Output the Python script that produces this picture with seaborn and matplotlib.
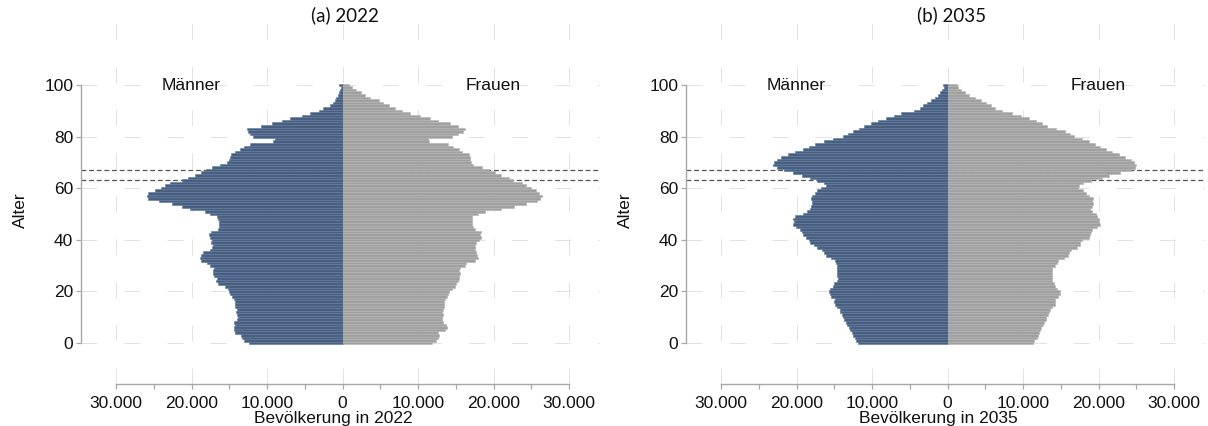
import pandas as pd
import matplotlib
matplotlib.use('Agg')
import matplotlib.pyplot as plt
from matplotlib.ticker import FuncFormatter, FixedLocator
import seaborn as sns

# Alter 0 bis 100 (100 = 100 und älter)
ages = list(range(0, 101))

maenner_2022 = [12400, 13000, 13300, 13400, 14200, 14400, 14400, 14300, 14400, 14000,
                13900, 14000, 14100, 14000, 14200, 14300, 14200, 14400, 14600, 14900,
                15000, 15200, 15600, 16500, 16700, 16600, 17000, 17100, 17200, 17000,
                17600, 17900, 18700, 18900, 18800, 18500, 17600, 17300, 17200, 17400,
                17300, 17600, 17700, 17400, 16500, 16400, 16300, 16400, 16500, 16600,
                17500, 18200, 20200, 21300, 22600, 24300, 25700, 25900, 25700, 24800,
                24000, 23500, 22800, 21200, 20400, 19500, 18700, 18100, 17300, 16200,
                15300, 15000, 14900, 14800, 14200, 13600, 13000, 12300, 9200, 9000,
                11800, 12300, 12500, 12600, 10800, 9300, 8000, 7000, 5400, 4300,
                3100, 2600, 1700, 1300, 1000, 800, 600, 450, 320, 220,
                400]
frauen_2022 = [11800, 12400, 12700, 12800, 12700, 13600, 13800, 13700, 13300, 13200,
               13200, 13300, 13200, 13300, 13400, 13400, 13500, 13600, 13900, 14000,
               14100, 14500, 14900, 15000, 15300, 15400, 15400, 15500, 15400, 15600,
               16200, 16400, 17600, 17900, 17800, 17700, 17600, 17500, 17600, 17700,
               18100, 18400, 18200, 18300, 17500, 17300, 17200, 17200, 17100, 17100,
               17900, 18900, 21000, 22700, 24300, 25700, 26100, 26400, 26000, 25600,
               25000, 24300, 23800, 22600, 22000, 21000, 20200, 19400, 18500, 17300,
               17000, 16900, 16900, 16800, 15800, 15400, 14600, 14000, 11500, 11300,
               14500, 15300, 16000, 16200, 15300, 14200, 12700, 11600, 10300, 9000,
               7900, 6900, 6100, 5300, 4800, 3600, 3000, 2400, 1800, 1300,
               800]
maenner_2035 = [11800, 12100, 12300, 12500, 12700, 12900, 13100, 13300, 13500, 13700,
                13800, 14000, 14200, 14300, 14600, 14900, 15000, 14900, 15400, 15600,
                15700, 15500, 15200, 15000, 14600, 14500, 14600, 14700, 14700, 14700,
                14600, 14800, 14900, 15400, 16100, 16300, 16600, 17300, 17700, 18200,
                18300, 18800, 19200, 19300, 19500, 20100, 20400, 20300, 20500, 20200,
                19200, 18600, 18200, 18100, 18000, 18000, 18100, 17900, 17600, 17300,
                16800, 16100, 16300, 17300, 18200, 19300, 20400, 21600, 22600, 23100,
                23000, 22600, 22000, 21100, 20200, 19200, 18300, 17600, 16400, 15100,
                13900, 13200, 12500, 11700, 11000, 10100, 9200, 8200, 7100, 6200,
                4500, 3700, 3200, 2700, 2200, 1600, 1300, 1000, 700, 500,
                600]
frauen_2035 = [11300, 11500, 11800, 12000, 12100, 12200, 12400, 12700, 12800, 13000,
               13100, 13300, 13500, 13600, 13900, 14200, 14200, 14300, 14700, 14900,
               14900, 14500, 14200, 14100, 13900, 13800, 13800, 13900, 13800, 13900,
               14300, 14500, 14600, 15400, 15900, 16100, 16300, 17200, 17500, 17600,
               17800, 18700, 18900, 19000, 19100, 19800, 20200, 20000, 20000, 19800,
               19700, 19200, 18900, 19100, 19300, 19200, 19300, 18800, 18400, 17900,
               17300, 17400, 18000, 19000, 20400, 21400, 22900, 24300, 24900, 25000,
               24700, 24300, 23500, 22700, 21800, 21000, 20200, 19600, 18700, 17800,
               16800, 16200, 15500, 14400, 13200, 12500, 11700, 10800, 9700, 8500,
               7200, 6300, 5700, 5100, 4500, 3600, 2900, 2300, 1800, 1400,
               1200]

panel_titles = ['(a) 2022', '(b) 2035']
x_labels = ['Bevölkerung in 2022', 'Bevölkerung in 2035']
ref_ages = [63, 67]
x_ticks = [-30000, -20000, -10000, 0, 10000, 20000, 30000]
x_minor = [-25000, -15000, -5000, 5000, 15000, 25000]
y_ticks = [0, 20, 40, 60, 80, 100]

sns.set_theme(style='white')
plt.rcParams['font.family'] = ['Liberation Sans', 'DejaVu Sans']
plt.rcParams['lines.scale_dashes'] = False

fig = plt.figure(figsize=(12.08, 4.26), dpi=100)

panels = [(maenner_2022, frauen_2022), (maenner_2035, frauen_2035)]
lefts = [81 / 1208, 686 / 1208]
title_x = [345 / 1208, 952 / 1208]
axis_grey = '#a8a8a8'

for i, (men, women) in enumerate(panels):
    ax = fig.add_axes([lefts[i], 1 - 384 / 426, 519 / 1208, 364 / 426])

    df_m = pd.DataFrame({'Alter': ages, 'Bevölkerung': [-v for v in men]})
    df_f = pd.DataFrame({'Alter': ages, 'Bevölkerung': women})
    sns.barplot(data=df_m, x='Bevölkerung', y='Alter', orient='h', native_scale=True,
                width=1, color='#4a5e7e', saturation=1, edgecolor='#5a7aa2',
                linewidth=0.4, errorbar=None, ax=ax)
    sns.barplot(data=df_f, x='Bevölkerung', y='Alter', orient='h', native_scale=True,
                width=1, color='#a0a0a0', saturation=1, edgecolor='#b3b3b3',
                linewidth=0.4, errorbar=None, ax=ax)

    # Renteneintrittsalter
    for a in ref_ages:
        ax.axhline(a, color='#555555', lw=0.9, ls=(0, (3.5, 2)), zorder=0.8)

    ax.set_xlim(-34636, 34106)
    ax.set_ylim(-15.9, 125.2)

    ax.set_xticks(x_ticks)
    ax.xaxis.set_minor_locator(FixedLocator(x_minor))
    ax.set_yticks(y_ticks)
    ax.xaxis.set_major_formatter(FuncFormatter(lambda v, p: f'{abs(int(v)):,}'.replace(',', '.')))

    ax.set_axisbelow(True)
    ax.grid(True, which='major', color='#e2e2e2', lw=0.7, ls=(0, (11.5, 19.5)))

    for s in ['top', 'right']:
        ax.spines[s].set_visible(False)
    ax.spines['left'].set_bounds(0, 100)
    ax.spines['bottom'].set_bounds(-30000, 30000)
    for s in ['left', 'bottom']:
        ax.spines[s].set_color(axis_grey)
        ax.spines[s].set_linewidth(1)

    ax.tick_params(axis='both', which='both', bottom=True, left=True, direction='out',
                   length=3.6, width=0.9, color=axis_grey, labelsize=12.5,
                   labelcolor='#111111')
    ax.tick_params(axis='x', pad=5)
    ax.tick_params(axis='y', pad=2)

    ax.set_xlabel(x_labels[i], fontsize=12.5, color='#111111')
    ax.xaxis.label.set_va('center')
    ax.xaxis.set_label_coords(0.4868, -0.096)
    ax.set_ylabel('Alter', fontsize=12.5, color='#111111')
    ax.yaxis.label.set_va('center')
    ax.yaxis.set_label_coords(-0.1175, 0.478)

    ax.text(-20000, 100, 'Männer', ha='center', va='center', fontsize=12.5, color='#111111')
    ax.text(20000, 100, 'Frauen', ha='center', va='center', fontsize=12.5, color='#111111')

    fig.text(title_x[i], 1 - 15 / 426, panel_titles[i], ha='center', va='center',
             fontsize=13.5, family=['Lato', 'DejaVu Sans'], color='#111111')

fig.savefig('out.png', dpi=100, facecolor='white')
